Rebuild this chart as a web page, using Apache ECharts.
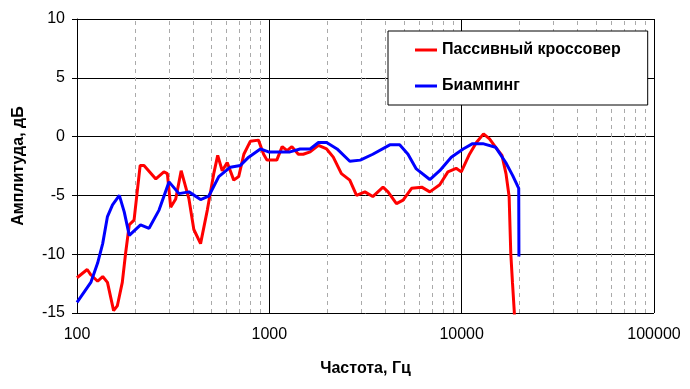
<!DOCTYPE html>
<html>
<head>
<meta charset="utf-8">
<script src="https://cdn.jsdelivr.net/npm/echarts@6/dist/echarts.min.js"></script>
<style>
html,body{margin:0;padding:0;background:#fff;}
#chart{width:690px;height:389px;}
</style>
</head>
<body>
<div id="chart"></div>
<script>
// Frequencies (Hz) and amplitudes (dB)
const passiveFreq = [100,113,118,128,136,144,155,162,172,179,187,198,213,223,257,283,295,307,326,348,382,405,439,476,514,539,569,604,653,693,737,796,878,934,972,1093,1166,1237,1310,1415,1500,1630,1800,1985,2150,2370,2620,2840,3140,3450,3900,4140,4580,4960,5490,6200,6830,7690,8480,9360,9950,10980,11930,12990,13960,15000,16200,17000,17650,18000,18370,18760,18900];
const passiveDb = [-12.0,-11.3,-11.75,-12.3,-11.9,-12.4,-14.8,-14.4,-12.4,-9.9,-7.5,-7.1,-2.45,-2.45,-3.6,-3.0,-3.15,-6.0,-5.3,-2.9,-5.3,-7.9,-9.1,-6.25,-3.15,-1.6,-2.9,-2.2,-3.7,-3.4,-1.5,-0.4,-0.3,-1.5,-2.0,-2.0,-0.85,-1.2,-0.85,-1.5,-1.5,-1.3,-0.75,-1.05,-1.75,-3.15,-3.7,-5.0,-4.7,-5.1,-4.3,-4.7,-5.7,-5.4,-4.4,-4.3,-4.7,-4.1,-3.0,-2.7,-3.0,-1.5,-0.5,0.23,-0.2,-0.9,-1.6,-3.15,-5.1,-9.9,-12.4,-14.8,-16];

const biampFreq = [100,118,128,136,144,153,166,176,187,214,237,267,301,339,382,439,484,546,627,707,781,898,990,1139,1280,1445,1630,1800,1985,2250,2620,2970,3450,4230,4760,5260,5810,6830,7690,8830,10180,11400,12880,15000,16950,18400,19800,19850];
const biampDb = [-14.1,-12.4,-10.75,-9.1,-6.8,-5.8,-5.0,-6.4,-8.4,-7.5,-7.8,-6.25,-3.85,-4.85,-4.7,-5.35,-5.07,-3.4,-2.6,-2.45,-1.75,-1.05,-1.3,-1.3,-1.3,-1.05,-1.05,-0.5,-0.5,-1.05,-2.1,-2.0,-1.5,-0.7,-0.7,-1.5,-2.75,-3.65,-2.9,-1.75,-1.05,-0.6,-0.6,-0.9,-2.2,-3.3,-4.4,-10.2];

const seriesNames = ['Пассивный кроссовер', 'Биампинг'];
const minorGridFreq = [200,300,400,500,600,700,800,900,2000,3000,4000,5000,6000,7000,8000,9000,20000,30000,40000,50000,60000,70000,80000,90000];
const xTitle = 'Частота, Гц';
const yTitle = 'Амплитуда, дБ';

const zip = (a, b) => a.map((v, i) => [v, b[i]]);
const FONT = "'Liberation Sans', Arial, sans-serif";

const chart = echarts.init(document.getElementById('chart'), null, {renderer: 'canvas'});
chart.setOption({
  animation: false,
  backgroundColor: '#fff',
  grid: {left: 77, right: 36, top: 19, bottom: 76, containLabel: false},
  legend: {
    data: seriesNames,
    orient: 'vertical',
    left: 388, top: 31,
    padding: [11, 27, 11, 27],
    itemGap: 20,
    itemWidth: 22, itemHeight: 3,
    icon: 'rect',
    backgroundColor: '#fff',
    borderColor: '#000', borderWidth: 1,
    textStyle: {fontFamily: FONT, fontSize: 16, fontWeight: 'bold', color: '#000'}
  },
  xAxis: {
    type: 'log', logBase: 10, min: 100, max: 100000,
    name: xTitle, nameLocation: 'middle', nameGap: 48,
    nameTextStyle: {fontFamily: FONT, fontSize: 16, fontWeight: 'bold', color: '#000'},
    axisLine: {show: true, lineStyle: {color: '#000', width: 1}},
    axisTick: {show: true, inside: false, length: 5, lineStyle: {color: '#000'}},
    axisLabel: {fontFamily: FONT, fontSize: 16, color: '#000', margin: 14,
      formatter: v => String(Math.round(v))},
    splitLine: {show: true, lineStyle: {color: '#000', width: 1}},
    minorTick: {show: false}, minorSplitLine: {show: false}
  },
  yAxis: {
    type: 'value', min: -15, max: 10, interval: 5,
    name: yTitle, nameLocation: 'middle', nameGap: 50, nameRotate: 90,
    nameTextStyle: {fontFamily: FONT, fontSize: 16, fontWeight: 'bold', color: '#000'},
    axisLine: {show: true, lineStyle: {color: '#000', width: 1}},
    axisTick: {show: true, inside: false, length: 5, lineStyle: {color: '#000'}},
    axisLabel: {fontFamily: FONT, fontSize: 16, color: '#000', margin: 12},
    splitLine: {show: true, lineStyle: {color: '#000', width: 1}}
  },
  series: [
    {
      name: 'minor-grid', type: 'line', data: [], silent: true, z: 1,
      markLine: {
        z: 1,
        silent: true, symbol: 'none', animation: false,
        label: {show: false},
        emphasis: {disabled: true},
        lineStyle: {color: '#aaa', type: [4, 4], width: 1},
        data: minorGridFreq.map(f => ({xAxis: f}))
      }
    },
    {
      name: seriesNames[0], type: 'line', data: zip(passiveFreq, passiveDb),
      showSymbol: false, symbol: 'none', color: '#ff0000',
      lineStyle: {color: '#ff0000', width: 3}, clip: true, z: 3
    },
    {
      name: seriesNames[1], type: 'line', data: zip(biampFreq, biampDb),
      showSymbol: false, symbol: 'none', color: '#0000ff',
      lineStyle: {color: '#0000ff', width: 3}, clip: true, z: 4
    }
  ]
});
</script>
</body>
</html>
